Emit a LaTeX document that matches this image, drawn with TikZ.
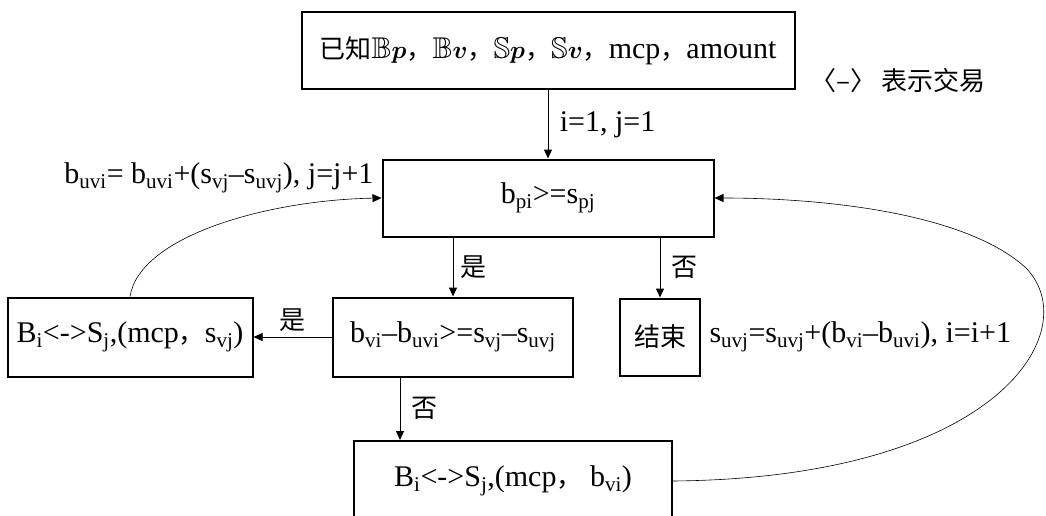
\documentclass[tikz,border=0pt]{standalone}
\usepackage{amsmath,amssymb}
\usepackage{fontspec}
\setmainfont{Liberation Serif}
\newfontfamily\cjkfam{Noto Sans CJK SC}
\usetikzlibrary{arrows.meta}
\newcommand{\subt}[1]{\textsubscript{#1}}
\newcommand{\zh}[1]{{\cjkfam\fontsize{26}{30}\selectfont #1}}
\begin{document}
\begin{tikzpicture}[x=1pt,y=-1pt,
    box/.style={draw, line width=2pt, inner sep=0pt},
    link/.style={line width=1pt, -{Triangle[length=9pt,width=8pt]}},
    loop/.style={line width=0.6pt, -{Triangle[length=9pt,width=8pt]}},
    font=\fontsize{30}{34}\selectfont]
      \useasboundingbox (0,0) rectangle (1046,516);
      \node[box, minimum width=493pt, minimum height=77pt] (know) at (548,51){\zh{已知}$\mathbb{B}\boldsymbol{p}$\zh{，}$\mathbb{B}\boldsymbol{v}$\zh{，}$\mathbb{S}\boldsymbol{p}$\zh{，}$\mathbb{S}\boldsymbol{v}$\zh{，}mcp\zh{，}amount};
      \node (note) at (898,81){\zh{〈–〉 表示交易}};
      \node[box, minimum width=331pt, minimum height=77pt] (cmp) at (548,198){b\subt{pi}>=s\subt{pj}};
      \node[box, minimum width=240pt, minimum height=79pt] (chk) at (453,337){b\subt{vi}–b\subt{uvi}>=s\subt{vj}–s\subt{uvj}};
      \node[box, minimum width=245pt, minimum height=79pt] (dealS) at (130,337){B\subt{i}<->S\subt{j},(mcp\zh{，}s\subt{vj})};
      \node[box, minimum width=80pt, minimum height=77pt] (stop) at (660,337){\zh{结束}};
      \node[box, minimum width=318pt, minimum height=80pt] (dealB) at (513,481){B\subt{i}<->S\subt{j},(mcp\zh{，} b\subt{vi})};

      \node[anchor=east] (updB) at (377,178){b\subt{uvi}= b\subt{uvi}+(s\subt{vj}–s\subt{uvj}), j=j+1};
      \node[anchor=west] (updS) at (706,337){s\subt{uvj}=s\subt{uvj}+(b\subt{vi}–b\subt{uvi}), i=i+1};

      \draw[link](know) -- node[right=8pt]{i=1, j=1} (cmp);
      \draw[link](chk.north |- cmp.south) -- node[right=4pt]{\zh{是}} (chk.north);
      \draw[link](stop.north |- cmp.south) -- node[right=8pt]{\zh{否}} (stop.north);
      \draw[link](chk.west) -- node[above=2pt]{\zh{是}} (dealS.east);
      \draw[link]([xshift=-53pt]chk.south) -- node[right=8pt]{\zh{否}} ([xshift=-113pt]dealB.north);
      \draw[loop](dealS.north) .. controls (140,235) and (270,200) .. (cmp.west);
      \draw[loop](dealB.east) .. controls (1000,478) and (1086,330) .. (1026,268) .. controls (965,212) and (820,198) .. (cmp.east);

    \end{tikzpicture}
\end{document}
